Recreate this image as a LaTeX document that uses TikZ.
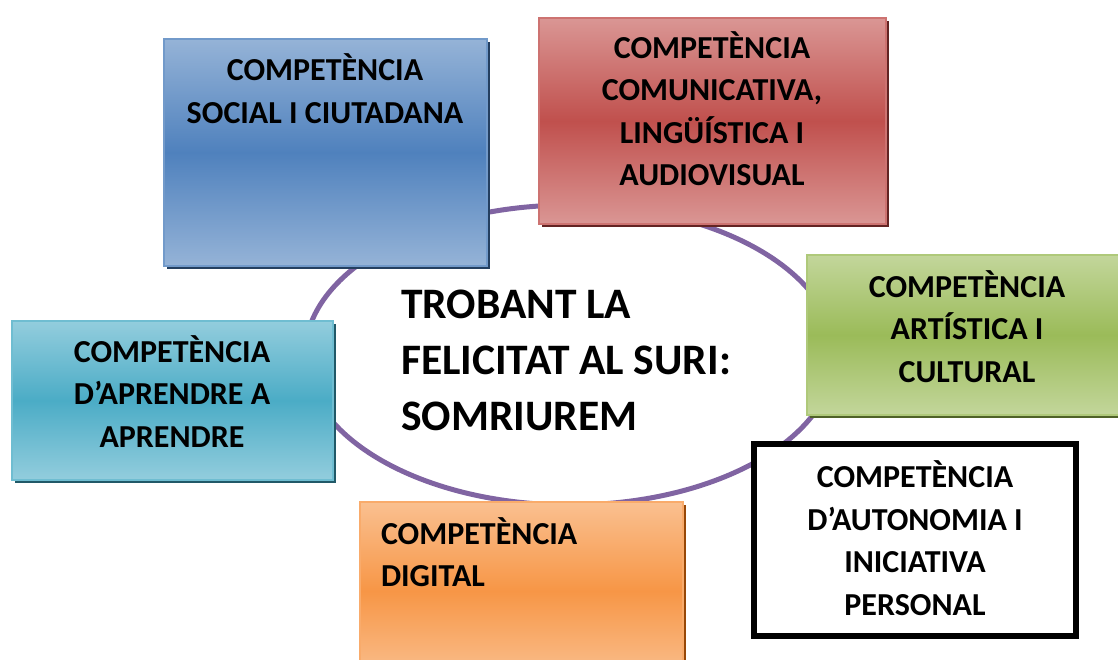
\documentclass[tikz,border=0pt]{standalone}
\usepackage{fontspec}
\setmainfont{Carlito}
\usetikzlibrary{shapes.geometric,shadows}

\definecolor{blueL}{HTML}{95B3D7}
\definecolor{blueM}{HTML}{4F81BD}
\definecolor{blueS}{HTML}{243F60}
\definecolor{redL}{HTML}{DA9694}
\definecolor{redM}{HTML}{C0504D}
\definecolor{redS}{HTML}{632423}
\definecolor{greenL}{HTML}{C3D69B}
\definecolor{greenM}{HTML}{9BBB59}
\definecolor{greenS}{HTML}{4F6228}
\definecolor{cyanL}{HTML}{93CDDD}
\definecolor{cyanM}{HTML}{4BACC6}
\definecolor{cyanS}{HTML}{215968}
\definecolor{orangeL}{HTML}{FAC090}
\definecolor{orangeM}{HTML}{F79646}
\definecolor{orangeS}{HTML}{984807}
\definecolor{ring}{HTML}{8064A2}

\tikzset{
  compbox/.style={rectangle, draw=#1M!80!white, line width=1.5pt,
    top color=#1L, bottom color=#1L, middle color=#1M,
    drop shadow={shadow xshift=3pt, shadow yshift=-3pt, fill=#1S, opacity=1}},
  comptext/.style={align=center, font=\fontsize{32}{42.5}\selectfont\bfseries},
}

\begin{document}
\begin{tikzpicture}[x=1pt,y=-1pt]
  \useasboundingbox (0,0) rectangle (1118,660);
  \clip (0,0) rectangle (1118,660);

  \node (hub) at (570,355) [ellipse, draw=ring, line width=5pt,
    minimum width=530, minimum height=300] {};
  \node (hubtxt) at (566,360.5) [align=left,
    font=\fontsize{43.5}{56}\selectfont\bfseries]
    {TROBANT LA\\FELICITAT AL SURI:\\SOMRIUREM};

  \node (social) at (325.5,152.5) [compbox=blue, minimum width=323, minimum height=227] {};
  \node (socialtxt) at (325,88.5) [comptext] {COMPETÈNCIA\\SOCIAL I CIUTADANA};

  \node (comunic) at (712.5,121) [compbox=red, minimum width=347, minimum height=206] {};
  \node (comunictxt) at (712,108.5) [comptext] {COMPETÈNCIA\\COMUNICATIVA,\\LINGÜÍSTICA I\\AUDIOVISUAL};

  \node (artist) at (968,335) [compbox=green, minimum width=322, minimum height=160] {};
  \node (artisttxt) at (967,326.5) [comptext] {COMPETÈNCIA\\ARTÍSTICA I\\CULTURAL};

  \node (aprendre) at (172.5,400.5) [compbox=cyan, minimum width=321, minimum height=159] {};
  \node (aprendretxt) at (172,391.5) [comptext] {COMPETÈNCIA\\D’APRENDRE A\\APRENDRE};

  \node (digital) at (521.5,591) [compbox=orange, minimum width=323, minimum height=178] {};
  \node (digitaltxt) at (377.5,552) [comptext, align=left, anchor=west] {COMPETÈNCIA\\DIGITAL};

  \node (autonom) at (915,540) [rectangle, draw=black, fill=white, line width=6pt,
    minimum width=322, minimum height=192] {};
  \node (autonomtxt) at (915,538) [comptext] {COMPETÈNCIA\\D’AUTONOMIA I\\INICIATIVA\\PERSONAL};
\end{tikzpicture}
\end{document}
